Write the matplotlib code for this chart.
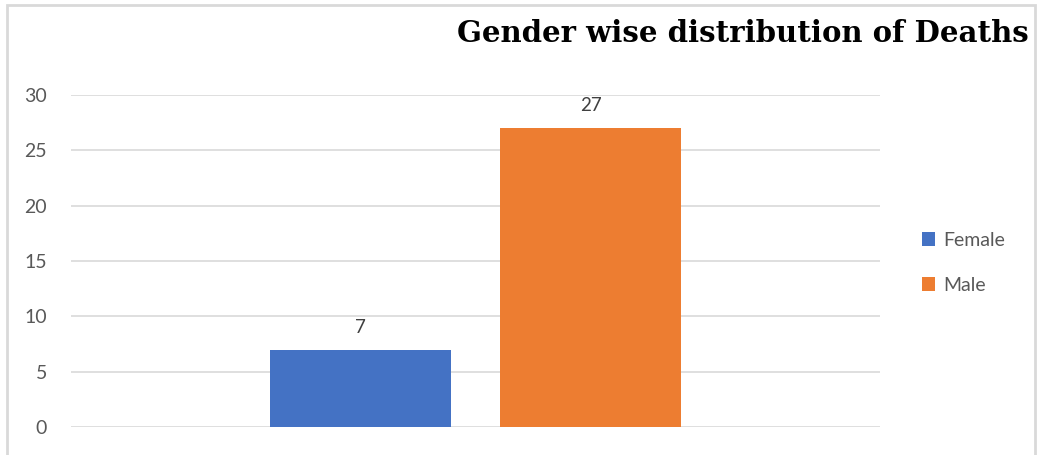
import matplotlib
matplotlib.use("Agg")
import matplotlib.pyplot as plt
from matplotlib.patches import Rectangle

genders = ['Female', 'Male']
deaths = [7, 27]
colors = ['#4472C4', '#ED7D31']
yticks = [0, 5, 10, 15, 20, 25, 30]

plt.rcParams['font.family'] = ['Lato', 'DejaVu Sans']

fig = plt.figure(figsize=(10.4, 4.55), dpi=100)
ax = fig.add_axes([0.068, 0.0615, 0.778, 0.7295])

pos = [0, 1]
bars = ax.bar(pos, deaths, width=0.785, color=colors, label=genders, zorder=3)
for p, v in zip(pos, deaths):
    ax.annotate(str(v), (p, v), xytext=(0, 10), textcoords='offset points',
                ha='center', va='bottom', fontsize=13.5, color='#404040')

ax.set_xlim(-1.256, 2.254)
ax.set_ylim(0, 30)
ax.set_yticks(yticks)
ax.set_xticks([])
ax.tick_params(axis='y', length=0, labelsize=14, labelcolor='#595959', pad=17)
ax.grid(axis='y', color='#d9d9d9', linewidth=1.2, zorder=0)
for s in ax.spines.values():
    s.set_visible(False)

ax.legend(loc='center left', bbox_to_anchor=(1.03, 0.495), frameon=False,
          fontsize=14, labelcolor='#595959', handlelength=0.7, handleheight=0.7,
          labelspacing=1.45, handletextpad=0.4)

fig.text(0.989, 0.927, 'Gender wise distribution of Deaths', ha='right', va='center',
         fontsize=21, fontweight='bold', family=['DejaVu Serif'])

fig.patches.append(Rectangle((0.007, -0.1), 0.988, 1.09, transform=fig.transFigure,
                             fill=False, edgecolor='#d9d9d9', linewidth=2))

fig.savefig('out.png', dpi=100)
